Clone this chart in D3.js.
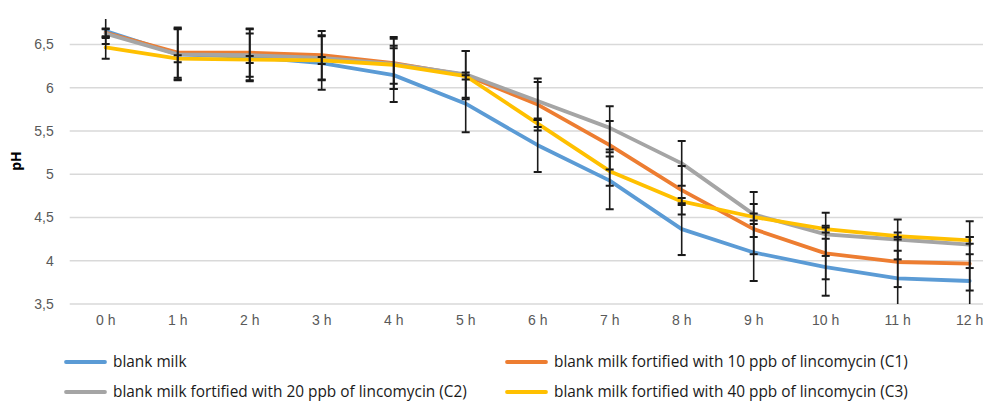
<!DOCTYPE html>
<html>
<head>
<meta charset="utf-8">
<script src="https://cdn.jsdelivr.net/npm/d3@7/dist/d3.min.js"></script>
<style>
  html, body { margin: 0; padding: 0; background: #fff; }
  svg { display: block; font-family: "Open Sans", "Noto Sans", sans-serif; }
</style>
</head>
<body>
<svg id="chart" width="983" height="401"></svg>
<script>
// Incubation time points
const hours = ["0 h", "1 h", "2 h", "3 h", "4 h", "5 h", "6 h", "7 h", "8 h", "9 h", "10 h", "11 h", "12 h"];

// Mean pH per time point
const blankMilk = [6.65, 6.38, 6.35, 6.28, 6.14, 5.81, 5.33, 4.92, 4.36, 4.09, 3.92, 3.79, 3.76];
const c1Values  = [6.63, 6.40, 6.40, 6.37, 6.28, 6.14, 5.80, 5.33, 4.81, 4.36, 4.08, 3.98, 3.96];
const c2Values  = [6.62, 6.38, 6.37, 6.34, 6.27, 6.15, 5.84, 5.53, 5.12, 4.53, 4.30, 4.24, 4.18];
const c3Values  = [6.46, 6.33, 6.32, 6.31, 6.26, 6.13, 5.58, 5.03, 4.68, 4.50, 4.36, 4.28, 4.23];

// Standard deviations (error bars)
const blankErr = [0.15, 0.30, 0.27, 0.31, 0.31, 0.33, 0.31, 0.33, 0.30, 0.33, 0.33, 0.32, 0.31];
const c1Err    = [0.05, 0.29, 0.28, 0.28, 0.30, 0.28, 0.30, 0.28, 0.28, 0.29, 0.30, 0.29, 0.31];
const c2Err    = [0.05, 0.29, 0.30, 0.26, 0.29, 0.27, 0.22, 0.25, 0.26, 0.26, 0.25, 0.23, 0.27];
const c3Err    = [0.13, 0.04, 0.04, 0.04, 0.22, 0.04, 0.04, 0.17, 0.04, 0.04, 0.04, 0.04, 0.04];

const seriesNames = [
  "blank milk",
  "blank milk fortified with 10 ppb of lincomycin (C1)",
  "blank milk fortified with 20 ppb of lincomycin (C2)",
  "blank milk fortified with 40 ppb of lincomycin (C3)"
];
const yTicks = [3.5, 4, 4.5, 5, 5.5, 6, 6.5];

const colors = ["#5B9BD5", "#ED7D31", "#A5A5A5", "#FFC000"];
const series = [
  { name: seriesNames[0], values: blankMilk, err: blankErr, color: colors[0] },
  { name: seriesNames[1], values: c1Values,  err: c1Err,    color: colors[1] },
  { name: seriesNames[2], values: c2Values,  err: c2Err,    color: colors[2] },
  { name: seriesNames[3], values: c3Values,  err: c3Err,    color: colors[3] }
];

const svg = d3.select("#chart");
const plot = { left: 69.7, right: 1005.7, top: 0.75, bottom: 303.5 };

const x = d3.scaleBand().domain(hours).range([plot.left, plot.right]).paddingInner(0).paddingOuter(0);
const cx = d => x(d) + x.bandwidth() / 2;
const y = d3.scaleLinear().domain([3.5, 7]).range([plot.bottom, plot.top]);

// Visible drawing region for the series and their error bars
const clipTop = 19;
svg.append("defs").append("clipPath").attr("id", "plotClip")
  .append("rect")
  .attr("x", plot.left).attr("y", clipTop)
  .attr("width", plot.right - plot.left).attr("height", plot.bottom - clipTop + 0.5);

// Horizontal gridlines with value labels
const yAxis = svg.append("g")
  .attr("transform", `translate(${plot.left},0)`)
  .call(d3.axisLeft(y)
    .tickValues(yTicks)
    .tickSize(-(plot.right - plot.left))
    .tickPadding(16)
    .tickFormat(d => String(d).replace(".", ",")));
yAxis.select(".domain").remove();
yAxis.selectAll(".tick line").attr("stroke", "#D9D9D9").attr("stroke-width", 1.3);
yAxis.selectAll(".tick text")
  .attr("fill", "#595959")
  .style("font-size", "14px")
  .attr("dy", "0.34em");

// Category labels
const xAxis = svg.append("g")
  .attr("transform", `translate(0,${plot.bottom})`)
  .call(d3.axisBottom(x).tickSize(0).tickPadding(14));
xAxis.select(".domain").remove();
xAxis.selectAll(".tick text")
  .attr("fill", "#595959")
  .style("font-size", "14px")
  .attr("dy", "0.71em")
  .attr("y", 12);

// Axis title
svg.append("text")
  .attr("transform", "translate(21,161) rotate(-90)")
  .attr("text-anchor", "middle")
  .style("font-size", "14px")
  .style("font-weight", "bold")
  .attr("fill", "#000")
  .text("pH");

// Series lines
const line = d3.line()
  .x((d, i) => cx(hours[i]))
  .y(d => y(d));

const marks = svg.append("g").attr("clip-path", "url(#plotClip)");
marks.selectAll("path.series")
  .data(series)
  .join("path")
  .attr("class", "series")
  .attr("fill", "none")
  .attr("stroke", d => d.color)
  .attr("stroke-width", 3.8)
  .attr("stroke-linejoin", "round")
  .attr("stroke-linecap", "round")
  .attr("d", d => line(d.values));

// Error bars
const capHalf = 4;
series.forEach(s => {
  const g = marks.append("g").attr("stroke", "#1a1a1a");
  s.values.forEach((v, i) => {
    const px = cx(hours[i]);
    const lo = y(v - s.err[i]);
    const hi = y(v + s.err[i]);
    g.append("line").attr("x1", px).attr("x2", px).attr("y1", lo).attr("y2", hi).attr("stroke-width", 1.6);
    g.append("line").attr("x1", px - capHalf).attr("x2", px + capHalf).attr("y1", lo).attr("y2", lo).attr("stroke-width", 2);
    g.append("line").attr("x1", px - capHalf).attr("x2", px + capHalf).attr("y1", hi).attr("y2", hi).attr("stroke-width", 2);
  });
});

// Legend
const legendPos = [
  { x: 66, y: 362 },
  { x: 507, y: 362 },
  { x: 66, y: 392 },
  { x: 507, y: 392 }
];
const legend = svg.append("g");
series.forEach((s, i) => {
  const p = legendPos[i];
  legend.append("line")
    .attr("x1", p.x).attr("x2", p.x + 39)
    .attr("y1", p.y).attr("y2", p.y)
    .attr("stroke", s.color).attr("stroke-width", 3.8).attr("stroke-linecap", "round");
  legend.append("text")
    .attr("x", p.x + 47).attr("y", p.y)
    .attr("dy", "0.35em")
    .style("font-size", "15.4px")
    .attr("fill", "#1a1a1a")
    .text(s.name);
});
</script>
</body>
</html>
